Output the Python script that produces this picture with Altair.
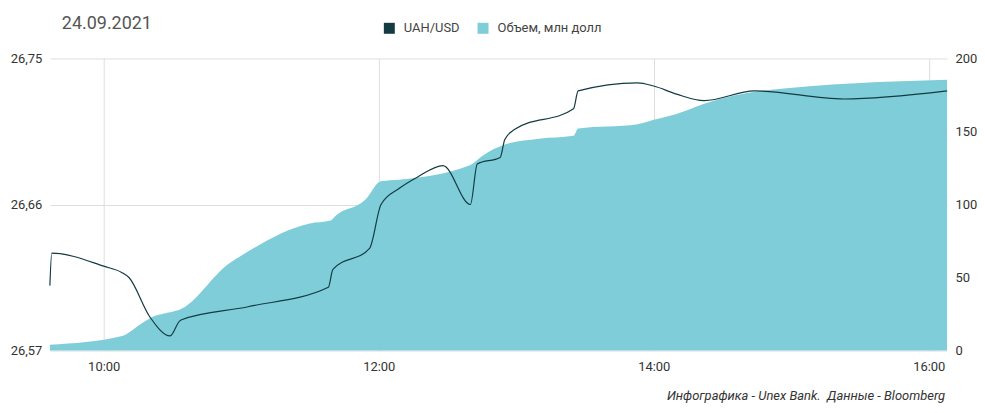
import altair as alt
import pandas as pd

DATE = "2021-09-24"
TITLE = "24.09.2021"
FOOTER = "Инфографика - Unex Bank.\u00a0 Данные - Bloomberg"
SERIES = ["UAH/USD", "Объем, млн долл"]
COLORS = ["#143b42", "#7ecdd9"]

rate_times = ["09:36:30", "09:37:20", "10:00", "10:08", "10:11", "10:20", "10:29",
              "10:33", "10:34", "11:03", "11:38", "11:40", "11:56", "12:01", "12:09",
              "12:17", "12:28", "12:40", "12:43", "12:53", "12:55", "12:59", "13:25",
              "13:27", "13:53", "14:00", "14:10", "14:22", "14:44", "15:23", "16:08"]
rate_values = [26.610, 26.630, 26.622, 26.618, 26.615, 26.591, 26.579,
               26.588, 26.589, 26.597, 26.609, 26.620, 26.633, 26.660, 26.670,
               26.677, 26.684, 26.660, 26.685, 26.689, 26.700, 26.706, 26.719,
               26.730, 26.735, 26.733, 26.728, 26.724, 26.730, 26.725, 26.730]

vol_times = ["09:36:30", "10:08", "10:16", "10:20", "10:31", "10:33", "10:55", "10:58",
             "11:30", "11:39", "11:41", "11:54", "12:01", "12:09", "12:40", "12:45",
             "12:55", "13:10", "13:25", "13:27", "13:53", "14:00", "14:10", "14:22",
             "14:48", "16:08"]
vol_values = [4, 10, 18, 22, 27, 28, 60, 63,
              87, 89, 92, 103, 116, 117, 127, 133,
              141, 145, 147, 152, 155, 158, 162, 169,
              178, 185.5]


def iso(t):
    if len(t) == 5:
        t = t + ":00"
    return f"{DATE}T{t}Z"


rate_df = pd.DataFrame({"time": [iso(t) for t in rate_times], "rate": rate_values})
vol_df = pd.DataFrame({"time": [iso(t) for t in vol_times], "volume": vol_values,
                       "series": SERIES[1]})


def dt(h, m=0, s=0):
    return alt.DateTime(year=2021, month=9, date=24, hours=h, minutes=m, seconds=s, utc=True)


FONT = "Roboto"
x_enc = alt.X(
    "time:T",
    scale=alt.Scale(type="utc", domain=[dt(9, 36, 30), dt(16, 8)]),
    axis=alt.Axis(values=[dt(10), dt(12), dt(14), dt(16)], format="%H:%M",
                  grid=True, gridColor="#dedede", domain=False, ticks=False,
                  labelPadding=10, labelFontSize=13, labelColor="#333",
                  labelFont=FONT, labelFlush=False),
    title=None,
)

area = alt.Chart(vol_df).mark_area(interpolate="monotone", opacity=1).encode(
    x=x_enc,
    y=alt.Y("volume:Q", scale=alt.Scale(domain=[0, 200], nice=False),
            axis=alt.Axis(orient="right", values=[0, 50, 100, 150, 200], grid=False,
                          domain=False, ticks=False, labelPadding=8, labelFontSize=13,
                          labelColor="#333", labelFont=FONT),
            title=None),
    color=alt.Color("series:N",
                    scale=alt.Scale(domain=SERIES, range=COLORS),
                    legend=alt.Legend(orient="none", legendX=334, legendY=-37,
                                      direction="horizontal", title=None,
                                      symbolType="square", symbolSize=121,
                                      symbolStrokeWidth=0, symbolOpacity=1,
                                      labelFontSize=13, labelColor="#444",
                                      labelFont=FONT, labelOffset=8,
                                      columnPadding=16, padding=0)),
)

line = alt.Chart(rate_df).mark_line(interpolate="monotone", strokeWidth=1.2,
                                     color=COLORS[0]).encode(
    x=x_enc,
    y=alt.Y("rate:Q", scale=alt.Scale(domain=[26.57, 26.75], nice=False, zero=False),
            axis=alt.Axis(orient="left", values=[26.57, 26.66, 26.75], grid=True,
                          gridColor="#dedede", domain=False, ticks=False,
                          labelPadding=8, labelFontSize=13, labelColor="#333",
                          labelFont=FONT,
                          labelExpr="replace(format(datum.value, '.2f'), '.', ',')"),
            title=None),
)

title = alt.Chart(pd.DataFrame({"t": [TITLE]})).mark_text(
    align="left", baseline="alphabetic", fontSize=18, color="#555", font=FONT
).encode(text="t:N", x=alt.value(12), y=alt.value(-29.5))

footer = alt.Chart(pd.DataFrame({"t": [FOOTER]})).mark_text(
    align="right", baseline="alphabetic", fontSize=13, color="#333", font=FONT,
    fontStyle="italic"
).encode(text="t:N", x=alt.value(898), y=alt.value(343))

chart = alt.layer(area, line, title, footer).resolve_scale(y="independent").properties(
    width=900, height=293,
    autosize=alt.AutoSizeParams(type="none"),
    padding={"left": 42, "top": 50, "right": 30, "bottom": 52},
).configure_view(stroke=None)

chart.save("out.html", embed_options={"renderer": "svg", "actions": False})
